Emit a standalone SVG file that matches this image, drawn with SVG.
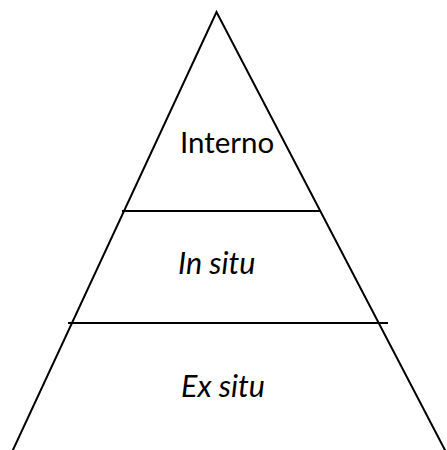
<svg xmlns="http://www.w3.org/2000/svg" width="447" height="450" viewBox="0 0 447 450">
<style>
.l{stroke:#000;stroke-width:2;fill:none;stroke-linecap:butt}
.t{font-family:Lato,"Open Sans",sans-serif;font-size:29.5px;fill:#000}
.i{font-style:italic;font-size:30.5px}
</style>
<rect width="447" height="450" fill="#fff"/>
<g id="connectors">
<path class="l" d="M12,452 L216.5,12 L446,452"/>
<line class="l" x1="122" y1="211" x2="320" y2="211"/>
<line class="l" x1="68" y1="323" x2="388" y2="323"/>
</g>
<g id="interno"><text class="t" x="180" y="153">Interno</text></g>
<g id="insitu"><text class="t i" x="178" y="274">In situ</text></g>
<g id="exsitu"><text class="t i" x="181" y="397">Ex situ</text></g>
</svg>
